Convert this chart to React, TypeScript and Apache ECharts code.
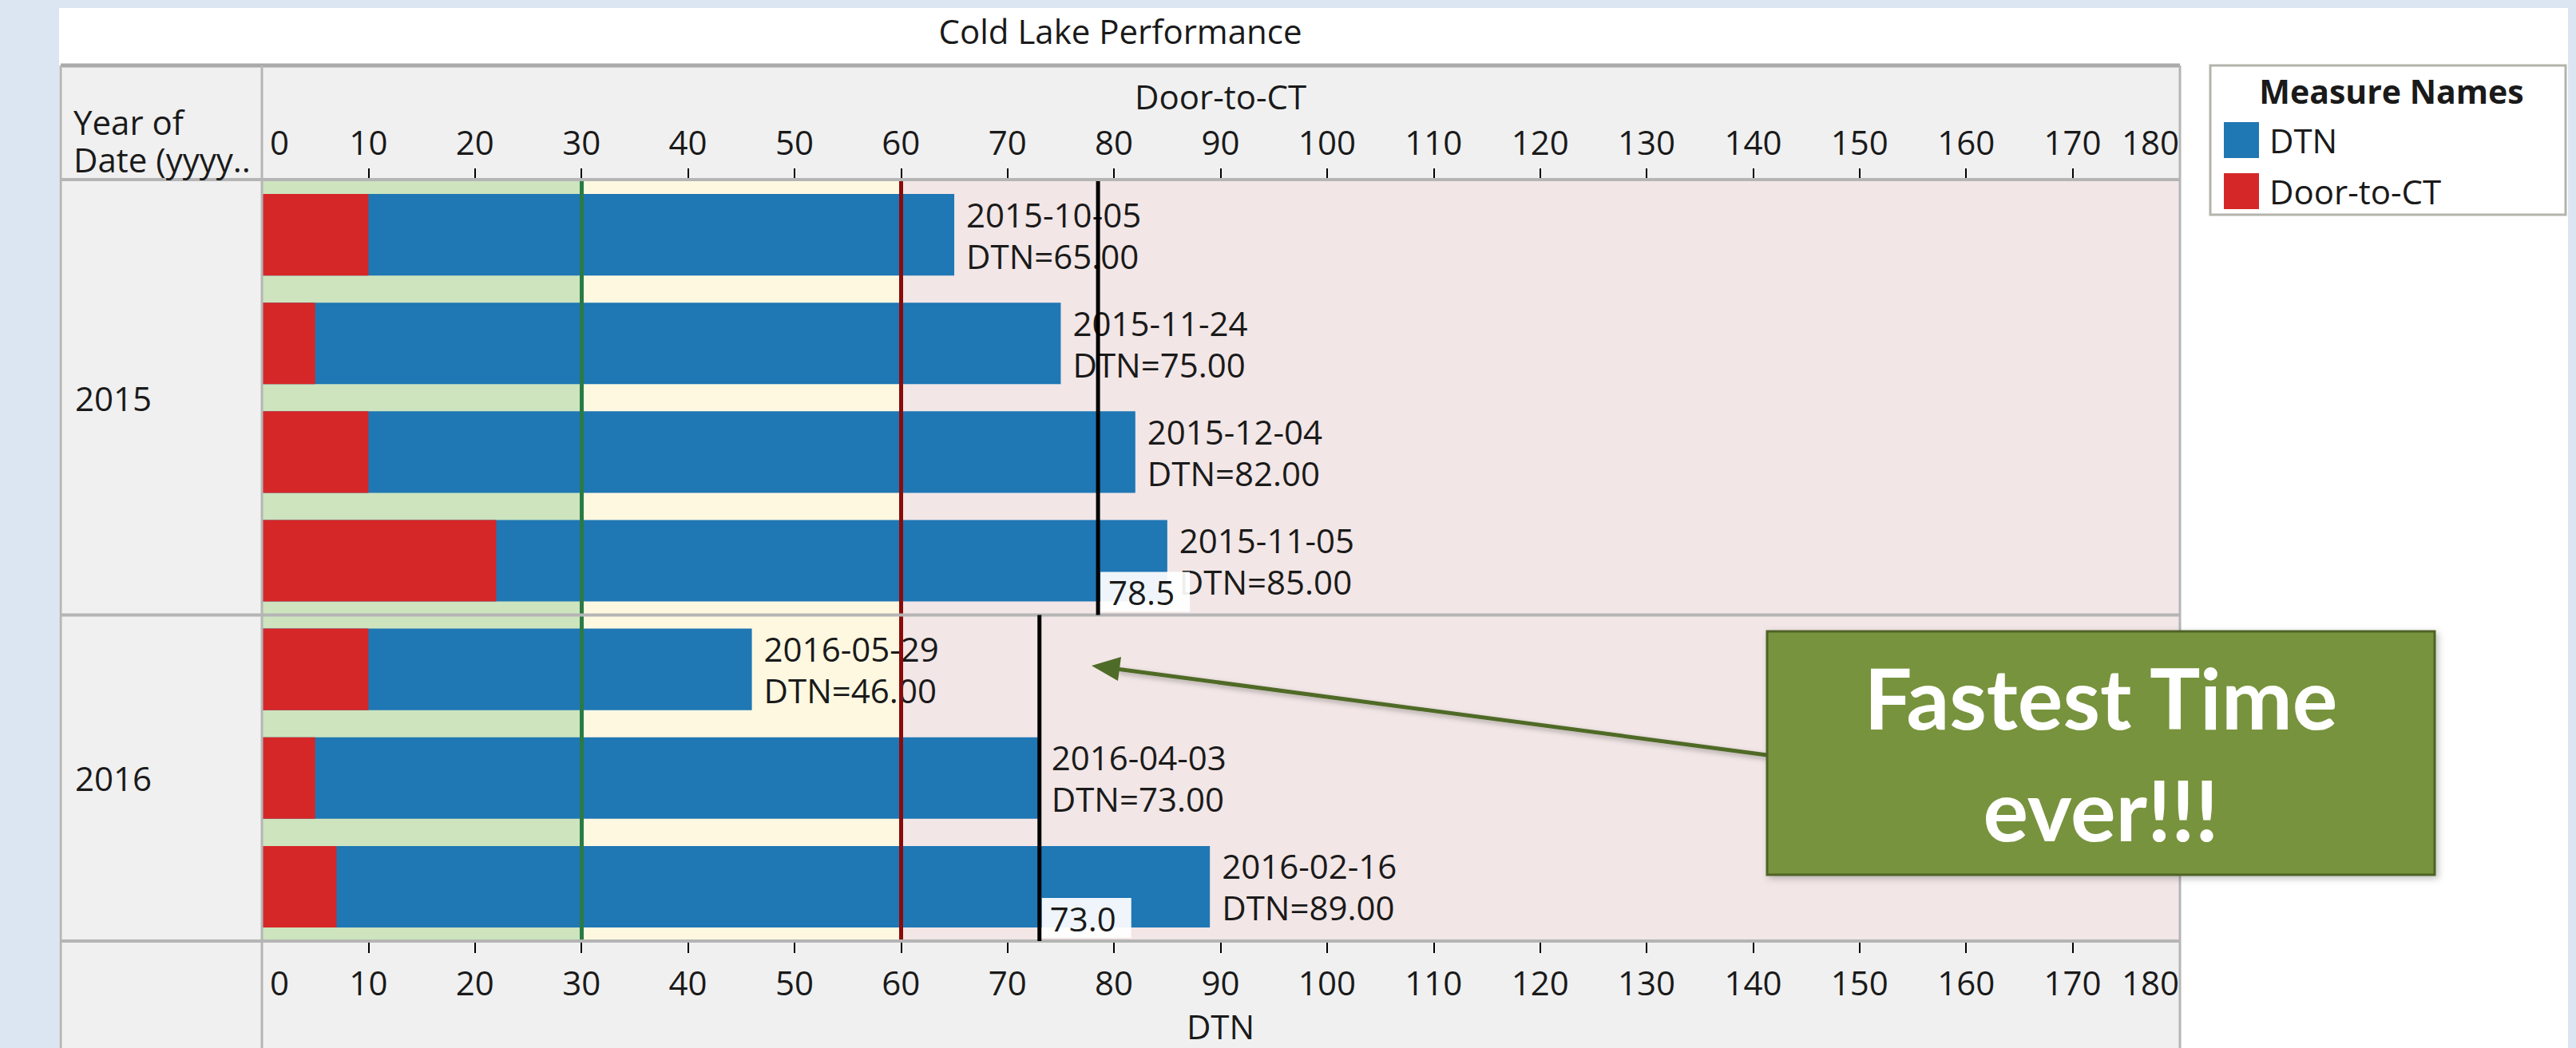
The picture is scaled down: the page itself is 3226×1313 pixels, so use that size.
import React, { useEffect, useRef } from "react";
import * as echarts from "echarts";

// ---- data ----
const dates = ["2015-10-05", "2015-11-24", "2015-12-04", "2015-11-05", "2016-05-29", "2016-04-03", "2016-02-16"];
const dtnValues = [65, 75, 82, 85, 46, 73, 89];
const doorToCtValues = [10, 5, 10, 22, 10, 5, 7];
const years = ["2015", "2016"];
const paneFirstRow = [0, 4];
const paneLastRow = [3, 6];
const paneMedians = [78.5, 73.0];
const tickValues = [0, 10, 20, 30, 40, 50, 60, 70, 80, 90, 100, 110, 120, 130, 140, 150, 160, 170, 180];
const bandEdges = [0, 30, 60, 180];
const targetLines = [30, 60];

const FONT = "'Open Sans', sans-serif";
const TEXT = "#1a1a1a";
const BLUE = "#1f77b4";
const RED = "#d62728";
const BORDER = "#b5b5b5";
const bandColors = ["#cde4be", "#fff8e1", "#f2e6e6"];
const lineColors = ["#2a7a45", "#8b0a0a"];

function xAxisDef(position: string, name: string, nameGap: number, margin: number) {
  return {
    type: "value",
    position,
    min: 0,
    max: 180,
    interval: 10,
    name,
    nameLocation: "middle",
    nameGap,
    nameTextStyle: { fontSize: 42, lineHeight: 44, color: TEXT, fontFamily: FONT },
    axisLine: { show: false },
    axisTick: {
      show: true,
      length: 15,
      lineStyle: { color: "#000", width: 2 },
      customValues: tickValues.slice(1, tickValues.length - 1),
    },
    axisLabel: {
      fontSize: 42,
      lineHeight: 44,
      color: TEXT,
      fontFamily: FONT,
      margin,
      customValues: tickValues,
      alignMinLabel: "left",
      alignMaxLabel: "right",
      showMinLabel: true,
      showMaxLabel: true,
      formatter: (v: number) => (v === tickValues[0] ? `{first|${v}}` : `${v}`),
      rich: {
        first: { fontSize: 42, lineHeight: 44, color: TEXT, fontFamily: FONT, padding: [0, 0, 0, 10] },
      },
    },
    splitLine: { show: false },
  };
}

export default function App() {
  const ref = useRef<HTMLDivElement>(null);
  useEffect(() => {
    if (!ref.current) return;
    const chart = echarts.init(ref.current, undefined, { renderer: "svg" });
    const paneData = years.map((_, i) => [paneMedians[i], paneFirstRow[i], paneLastRow[i]]);

    const option: any = {
      animation: false,
      backgroundColor: "#dce6f2",
      textStyle: { fontFamily: FONT },
      grid: { left: 328, top: 226, width: 2401, height: 953, containLabel: false, outerBoundsMode: "none", show: false },
      xAxis: [xAxisDef("bottom", "DTN", 84, 29), xAxisDef("top", "Door-to-CT", 84, 27)],
      yAxis: { type: "category", data: dates, inverse: true, show: false },
      legend: {
        data: ["DTN", "Door-to-CT"],
        orient: "vertical",
        left: 2780,
        top: 148,
        itemWidth: 44,
        itemHeight: 45,
        itemGap: 19,
        icon: "rect",
        textStyle: { fontSize: 42, color: TEXT, fontFamily: FONT, padding: [0, 0, 0, 8] },
        selectedMode: false,
      },
      series: [
        {
          name: "DTN",
          type: "bar",
          xAxisIndex: 0,
          data: dtnValues,
          barWidth: "75%",
          barGap: "-100%",
          itemStyle: { color: BLUE },
          z: 2,
          label: {
            show: true,
            position: "right",
            distance: 15,
            fontSize: 42,
            lineHeight: 52,
            color: TEXT,
            fontFamily: FONT,
            formatter: (p: any) => `${dates[p.dataIndex]}\nDTN=${Number(p.value).toFixed(2)}`,
          },
          markArea: {
            silent: true,
            z: 1,
            data: bandColors.map((c, i) => [
              { xAxis: bandEdges[i], itemStyle: { color: c, borderWidth: 0 } },
              { xAxis: bandEdges[i + 1] },
            ]),
          },
        },
        {
          name: "Door-to-CT",
          type: "bar",
          xAxisIndex: 0,
          data: doorToCtValues,
          barWidth: "75%",
          barGap: "-100%",
          itemStyle: { color: RED },
          z: 3,
          markLine: {
            silent: true,
            symbol: "none",
            z: 5,
            label: { show: false },
            data: targetLines.map((v, i) => ({ xAxis: v, lineStyle: { color: lineColors[i], width: 5, type: "solid" } })),
          },
        },
        {
          name: "_panes",
          type: "custom",
          xAxisIndex: 0,
          z: 6,
          clip: false,
          silent: true,
          encode: { x: 0, y: 1 },
          data: paneData,
          renderItem: (params: any, api: any) => {
            const i = params.dataIndex;
            const med = api.value(0);
            const first = api.value(1);
            const last = api.value(2);
            const band = Math.abs(api.size([0, 1])[1]);
            const top = api.coord([med, first]);
            const bot = api.coord([med, last]);
            const x = top[0];
            const yTop = top[1] - band / 2;
            const yBot = bot[1] + band / 2;
            return {
              type: "group",
              children: [
                { type: "line", shape: { x1: 76, y1: yBot, x2: 2730, y2: yBot }, style: { stroke: BORDER, lineWidth: 4 } },
                { type: "line", shape: { x1: x, y1: yTop, x2: x, y2: yBot }, style: { stroke: "#000", lineWidth: 5 } },
                { type: "rect", shape: { x: x + 3, y: yBot - 54, width: 112, height: 50 }, style: { fill: "rgba(255,255,255,0.93)" } },
                {
                  type: "text",
                  style: { text: paneMedians[i].toFixed(1), x: x + 13, y: yBot - 29, fontSize: 42, fontFamily: FONT, fill: TEXT, align: "left", verticalAlign: "middle" },
                },
                {
                  type: "text",
                  style: { text: years[i], x: 94, y: (yTop + yBot) / 2, fontSize: 42, fontFamily: FONT, fill: TEXT, align: "left", verticalAlign: "middle" },
                },
              ],
            };
          },
        },
      ],
      graphic: [
        { type: "rect", z: -20, silent: true, shape: { x: 74, y: 10, width: 3142, height: 1310 }, style: { fill: "#ffffff" } },
        { type: "rect", z: -19, silent: true, shape: { x: 76, y: 82, width: 2654, height: 1240 }, style: { fill: "#f0f0f0" } },
        { type: "line", z: 10, silent: true, shape: { x1: 76, y1: 82, x2: 2730, y2: 82 }, style: { stroke: "#aaaaaa", lineWidth: 5 } },
        { type: "line", z: 10, silent: true, shape: { x1: 76, y1: 225, x2: 2730, y2: 225 }, style: { stroke: BORDER, lineWidth: 4 } },
        { type: "line", z: 10, silent: true, shape: { x1: 76, y1: 82, x2: 76, y2: 1313 }, style: { stroke: BORDER, lineWidth: 3 } },
        { type: "line", z: 10, silent: true, shape: { x1: 328, y1: 82, x2: 328, y2: 1313 }, style: { stroke: BORDER, lineWidth: 3 } },
        { type: "line", z: 10, silent: true, shape: { x1: 2730, y1: 82, x2: 2730, y2: 1313 }, style: { stroke: BORDER, lineWidth: 3 } },
        {
          type: "text", z: 10, silent: true, x: 1403, y: 38,
          style: { text: "Cold Lake Performance", fontSize: 42, fontFamily: FONT, fill: TEXT, align: "center", verticalAlign: "middle" },
        },
        {
          type: "text", z: 10, silent: true, x: 92, y: 152,
          style: { text: "Year of", fontSize: 42, lineHeight: 44, fontFamily: FONT, fill: TEXT, align: "left", verticalAlign: "middle" },
        },
        {
          type: "text", z: 10, silent: true, x: 92, y: 199,
          style: { text: "Date (yyyy..", fontSize: 42, lineHeight: 44, fontFamily: FONT, fill: TEXT, align: "left", verticalAlign: "middle" },
        },
        { type: "rect", z: 1, silent: true, shape: { x: 2768, y: 82, width: 445, height: 187 }, style: { fill: "#ffffff", stroke: "#b4b4ac", lineWidth: 3 } },
        {
          type: "text", z: 10, silent: true, x: 2995, y: 114,
          style: { text: "Measure Names", fontSize: 41, fontWeight: "bold", fontFamily: FONT, fill: TEXT, align: "center", verticalAlign: "middle" },
        },
        {
          type: "line", z: 50, silent: true, shape: { x1: 2213, y1: 946, x2: 1398, y2: 838 },
          style: { stroke: "#4f6b28", lineWidth: 5, shadowBlur: 6, shadowColor: "rgba(0,0,0,0.3)", shadowOffsetX: 2, shadowOffsetY: 3 },
        },
        {
          type: "polygon", z: 50, silent: true, shape: { points: [[1367, 834], [1404, 823], [1400, 853]] },
          style: { fill: "#4f6b28" },
        },
        {
          type: "rect", z: 51, silent: true, shape: { x: 2213, y: 791, width: 836, height: 305 },
          style: { fill: "#77933c", stroke: "#4f6228", lineWidth: 3, shadowBlur: 8, shadowColor: "rgba(0,0,0,0.25)", shadowOffsetX: 3, shadowOffsetY: 3 },
        },
        {
          type: "text", z: 52, silent: true, x: 2631, y: 873,
          style: { text: "Fastest Time", fontSize: 106, fontWeight: "bold", fontFamily: "Lato, 'Open Sans', sans-serif", fill: "#ffffff", align: "center", verticalAlign: "middle" },
        },
        {
          type: "text", z: 52, silent: true, x: 2631, y: 1013,
          style: { text: "ever!!!", fontSize: 106, fontWeight: "bold", fontFamily: "Lato, 'Open Sans', sans-serif", fill: "#ffffff", align: "center", verticalAlign: "middle" },
        },
      ],
    };
    chart.setOption(option);
    return () => chart.dispose();
  }, []);
  return <div ref={ref} style={{ position: "absolute", left: 0, top: 0, width: 3226, height: 1313 }} />;
}
